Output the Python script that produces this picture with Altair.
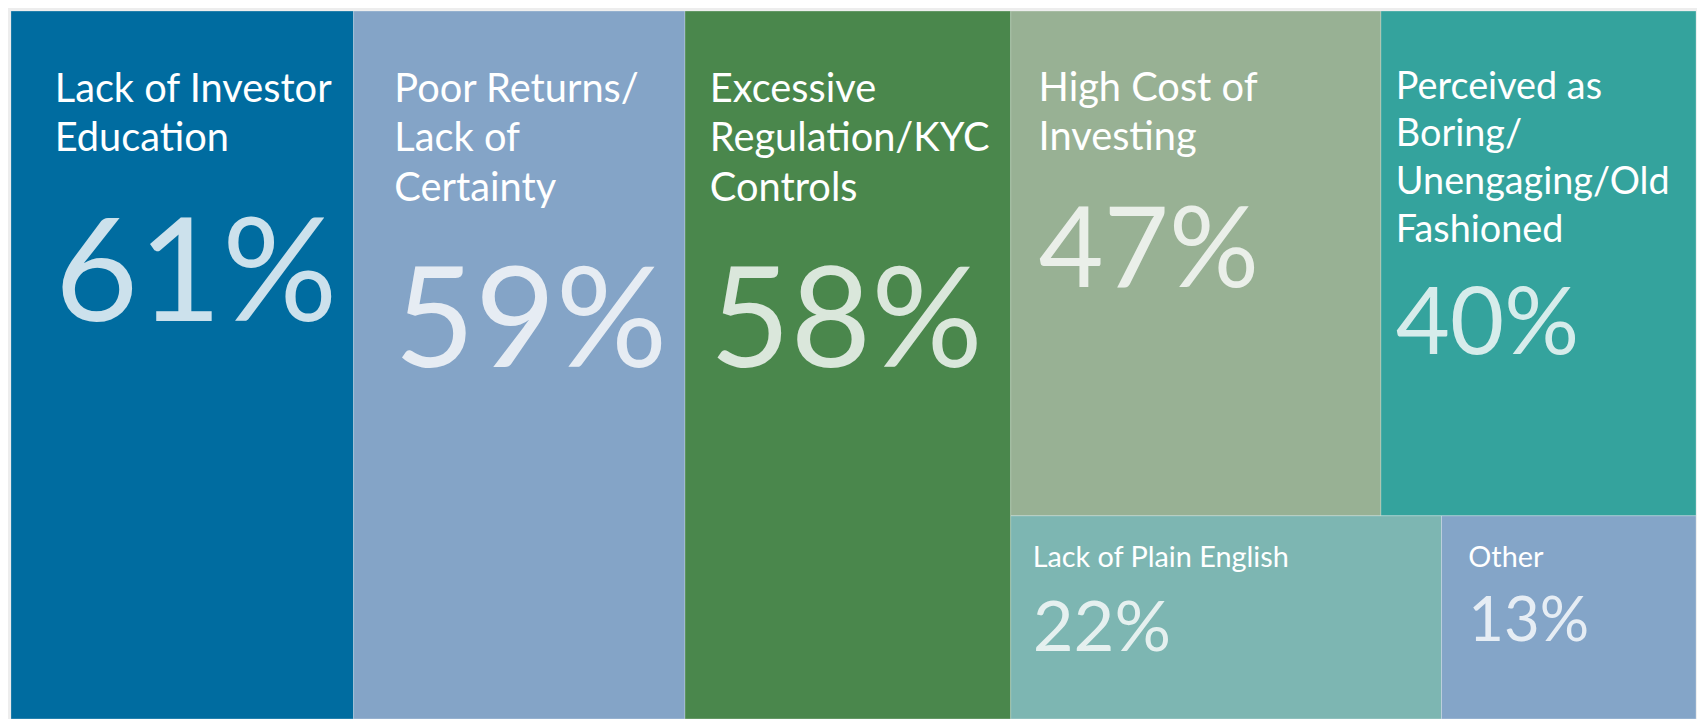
import altair as alt
import pandas as pd

# ---------------- data ----------------
categories = [
    "Lack of Investor Education",
    "Poor Returns/Lack of Certainty",
    "Excessive Regulation/KYC Controls",
    "High Cost of Investing",
    "Perceived as Boring/Unengaging/Old Fashioned",
    "Lack of Plain English",
    "Other",
]
label_lines = [
    ["Lack of Investor", "Education"],
    ["Poor Returns/", "Lack of", "Certainty"],
    ["Excessive", "Regulation/KYC", "Controls"],
    ["High Cost of", "Investing"],
    ["Perceived as", "Boring/", "Unengaging/Old", "Fashioned"],
    ["Lack of Plain English"],
    ["Other"],
]
values = [61, 59, 58, 47, 40, 22, 13]
# treemap structure: which column block and which row inside that block
column_group = [1, 2, 3, 4, 4, 4, 4]
row_group = [1, 1, 1, 1, 1, 2, 2]

# ---------------- styles ----------------
fill_colors = ["#006ca0", "#84a4c7", "#4a874c", "#98b194", "#34a39d", "#7db6b2", "#84a5c8"]
label_size = [40, 40, 40, 40, 38, 29, 29]
label_line_height = [50, 50, 50, 50, 48, 40, 40]
label_pad_x = [44, 41, 25, 28, 15, 22, 27]        # px from tile left edge
label_pad_y = [91, 91, 91, 90, 88, 51, 51]        # px from tile top to first baseline
pct_size = [145, 140, 140, 113, 94, 71, 62]
pct_pad_y = [312, 358, 358, 278, 345, 136, 126]  # px from tile top to baseline

W, H = 1695, 712
FONT = "Lato"

# ---------------- treemap layout (computed from values) ----------------
df = pd.DataFrame({
    "category": categories,
    "value": values,
    "col": column_group,
    "row": row_group,
})
total = float(df["value"].sum())
col_tot = df.groupby("col", sort=False)["value"].sum()
col_x0 = col_tot.cumsum() - col_tot

x0s, x1s, y0s, y1s = [], [], [], []
for i, r in df.iterrows():
    c, rw = r["col"], r["row"]
    ct = col_tot[c]
    in_col = df[df["col"] == c]
    row_tot = in_col.groupby("row", sort=False)["value"].sum()
    before_rows = row_tot[row_tot.index < rw].sum()
    ry0 = before_rows / ct
    ry1 = ry0 + row_tot[rw] / ct
    in_row = in_col[in_col["row"] == rw]
    before = in_row.loc[in_row.index < i, "value"].sum()
    x0 = col_x0[c] + before / row_tot[rw] * ct
    x1 = x0 + r["value"] / row_tot[rw] * ct
    x0s.append(x0); x1s.append(x1); y0s.append(ry0); y1s.append(ry1)

df["x0"], df["x1"], df["y0"], df["y1"] = x0s, x1s, y0s, y1s
df["fill"] = fill_colors
df["label"] = ["\n".join(l) for l in label_lines]
df["pct"] = [f"{v}%" for v in values]
df["label_size"] = label_size
df["lh"] = label_line_height
df["pct_size"] = pct_size
df["tx"] = df["x0"] + pd.Series(label_pad_x) * total / W
df["ty_label"] = df["y0"] + pd.Series(label_pad_y) / H
df["ty_pct"] = df["y0"] + pd.Series(pct_pad_y) / H

xs = alt.Scale(domain=[0, total], nice=False, zero=False)
ys = alt.Scale(domain=[0, 1], nice=False, zero=False, reverse=True)

base = alt.Chart(df)

tiles = base.mark_rect(stroke="#ffffff", strokeOpacity=0.25, strokeWidth=1).encode(
    x=alt.X("x0:Q", scale=xs, axis=None),
    x2="x1:Q",
    y=alt.Y("y0:Q", scale=ys, axis=None),
    y2="y1:Q",
    color=alt.Color("fill:N", scale=None),
)

def label_layer(lh):
    return base.transform_filter(alt.datum.lh == lh).mark_text(
        align="left", baseline="alphabetic", font=FONT, color="#ffffff",
        lineBreak="\n", lineHeight=lh,
    ).encode(
        x=alt.X("tx:Q", scale=xs, axis=None),
        y=alt.Y("ty_label:Q", scale=ys, axis=None),
        text="label:N",
        size=alt.Size("label_size:Q", scale=None, legend=None),
    )

labels = [label_layer(lh) for lh in sorted(set(label_line_height))]

pcts = base.mark_text(
    align="left", baseline="alphabetic", font=FONT, color="#ffffff", opacity=0.8,
).encode(
    x=alt.X("tx:Q", scale=xs, axis=None),
    y=alt.Y("ty_pct:Q", scale=ys, axis=None),
    text="pct:N",
    size=alt.Size("pct_size:Q", scale=None, legend=None),
)

chart = alt.layer(tiles, *labels, pcts).properties(
    width=W, height=H,
    padding={"left": 2, "top": 0, "right": 0, "bottom": 0},
    background="#ededed",
).configure_view(stroke=None)

chart.save("out.html", embed_options={"renderer": "svg", "actions": False})
